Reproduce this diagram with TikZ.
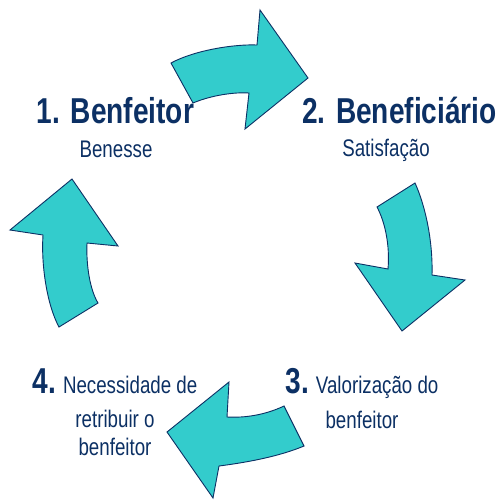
\documentclass[tikz,border=0pt]{standalone}
\usepackage{fontspec}
\setmainfont{Liberation Sans}[FakeStretch=0.78]
\definecolor{arrowfill}{RGB}{51,204,204}
\definecolor{inkblue}{RGB}{12,48,100}
\newcommand{\stepnum}[1]{{\fontsize{36}{36}\selectfont\bfseries #1}}
\begin{document}
\begin{tikzpicture}[x=1pt, y=-1pt,
  bigarrow/.style = {draw=inkblue, fill=arrowfill, line width=0.9pt, line join=miter},
  head/.style = {font=\fontsize{36}{38}\selectfont\bfseries, text=inkblue, inner sep=0pt},
  sub/.style = {font=\fontsize{24}{28}\selectfont, text=inkblue, inner sep=0pt, align=center}]
	\useasboundingbox (0,0) rectangle (502,499);
	
	% arrows
	\draw[bigarrow] (171,63) -- (193,103) .. controls (212,95) and (235,92) .. (249,93) -- (245,129) -- (308,78) -- (260,10) -- (257,45) .. controls (235,44) and (195,50) .. (171,63) -- cycle;
	\draw[bigarrow] (415,183) -- (377,207) .. controls (385,222) and (390,245) .. (388,269) -- (355,263) -- (402,331) -- (465,280) -- (432,275) .. controls (433,240) and (425,205) .. (415,183) -- cycle;
	\draw[bigarrow] (304,446) -- (284,406) .. controls (265,415) and (245,418) .. (227,417) -- (229,382) -- (167,432) -- (213,498) -- (219,466) .. controls (250,462) and (280,456) .. (304,446) -- cycle;
	\draw[bigarrow] (59,327) -- (98,303) .. controls (90,290) and (86,265) .. (87,243) -- (118,246) -- (72,179) -- (10,230) -- (43,235) .. controls (41,265) and (47,305) .. (59,327) -- cycle;
	
	% labels (base = last line)
	\node[head, anchor=base] (benfeitor) at (115.5,123) {1. Benfeitor};
	\node[sub, anchor=base] (benesse) at (116,157) {Benesse};
	\node[head, anchor=base] (beneficiario) at (399.5,123) {2. Beneficiário};
	\node[sub, anchor=base] (satisfacao) at (386,156) {Satisfação};
	\node[sub, anchor=base] (valorizacao) at (362,428) {\stepnum{3.} Valorização do\\[7pt] benfeitor};
	\node[sub, anchor=base] (retribuir) at (115,455) {\stepnum{4.} Necessidade de\\[6pt] retribuir o\\ benfeitor};
	
\end{tikzpicture}
\end{document}
